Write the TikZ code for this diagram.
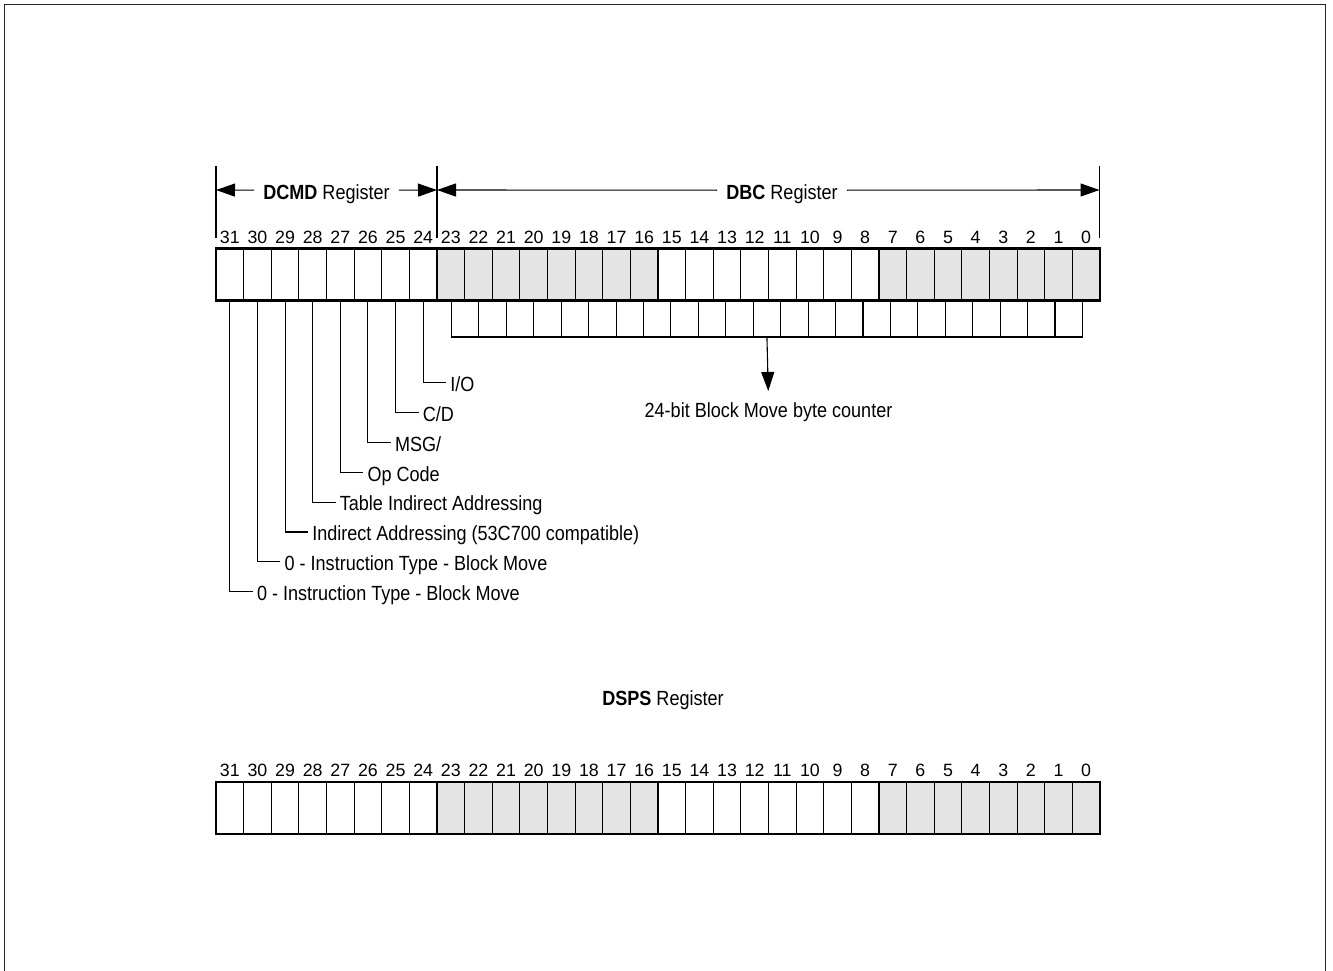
\documentclass[tikz,border=0pt]{standalone}
\usepackage{fontspec}
\setmainfont[FakeStretch=0.88]{Liberation Sans}
\newfontfamily\digitfont{Liberation Sans}
\usetikzlibrary{arrows.meta,calc}
\definecolor{cellgray}{HTML}{E4E4E4}
\begin{document}
\begin{tikzpicture}[x=1pt,y=-1pt,
  cell/.style={draw,line width=1.1pt,minimum width=27.625pt,minimum height=52pt,inner sep=0pt,outer sep=0pt,anchor=north west},
  graycell/.style={cell,fill=cellgray},
  subcell/.style={draw,line width=1.1pt,minimum width=27.43pt,minimum height=36.5pt,inner sep=0pt,outer sep=0pt,anchor=north west},
  bitnum/.style={font=\digitfont\fontsize{17.8}{20}\selectfont,anchor=base,inner sep=0pt},
  lbl/.style={font=\fontsize{20.5}{24}\selectfont,anchor=west,inner xsep=4pt,inner ysep=0pt,text height=19pt,text depth=1.4pt},
  hdr/.style={font=\fontsize{20.5}{24}\selectfont,inner xsep=9pt,inner ysep=0pt,text height=19pt,text depth=1.4pt},
  leader/.style={line width=1.1pt},
  thickline/.style={line width=2.5pt},
  dimarrow/.style={line width=1.1pt,-{Triangle[length=19pt,width=13pt]}},
]
\useasboundingbox (0,0) rectangle (1333,971);
% frame
\draw[line width=1.4pt,black!85] (4.5,971) -- (4.5,4.5) -- (1325.5,4.5) -- (1325.5,971);

% ---------- DCMD / DBC register ----------
\foreach \b in {8,...,15,24,25,26,27,28,29,30,31}
  \node[cell] (c\b) at ({216+(31-\b)*27.625},248.5) {};
\foreach \b in {0,...,7,16,17,18,19,20,21,22,23}
  \node[graycell] (c\b) at ({216+(31-\b)*27.625},248.5) {};
\foreach \b in {0,...,31}
  \node[bitnum] (n\b) at ({216+(31-\b)*27.625+13.81},243) {\b};
\draw[thickline] (c31.north west) rectangle (c0.south east);
\draw[thickline] (c24.north east) -- (c24.south east);
\draw[thickline] (c16.north east) -- (c16.south east);
\draw[thickline] (c8.north east) -- (c8.south east);

% byte counter boxes
\foreach \k in {1,...,23}
  \node[subcell] (s\k) at ({451.5+(\k-1)*27.43},300.5) {};
\node[font=\fontsize{20.5}{24}\selectfont,anchor=north,inner sep=0pt] (cnt) at (768.5,402) {24-bit Block Move byte counter};
\draw[dimarrow,shorten >=11pt] (s12.south) -- (cnt.north);

% dimension lines
\coordinate (tL) at (216,190);
\coordinate (tM) at (437,190);
\coordinate (tR) at (1099.5,190);
\draw[leader] (216,166) -- (216,238);
\draw[leader] (437,166) -- (437,238);
\draw[leader] (1099.5,166) -- (1099.5,238);
\node[hdr,anchor=base] (dcmd) at (326.5,199) {\textbf{DCMD} Register};
\node[hdr,anchor=base] (dbc) at (782,199) {\textbf{DBC} Register};
\draw[dimarrow] (dcmd.west) -- (tL);
\draw[dimarrow] (dcmd.east) -- (tM);
\draw[dimarrow] (dbc.west) -- (tM);
\draw[dimarrow] (dbc.east) -- (tR);

% leader labels
\foreach \b/\t [count=\i from 0] in {24/{I/O},25/{C/D},26/{MSG/},27/{Op Code},28/{Table Indirect Addressing},29/{Indirect Addressing (53C700 compatible)},30/{0 - Instruction Type - Block Move},31/{0 - Instruction Type - Block Move}}
{
  \node[lbl] (l\b) at ({216+(31-\b)*27.625+13.81+23},{382.5+\i*29.9}) {\t};
  \draw[leader] (c\b.south) |- (l\b.west);
}

% ---------- DSPS register ----------
\node[hdr,anchor=base] (dsps) at (663,705) {\textbf{DSPS} Register};
\foreach \b in {8,...,15,24,25,26,27,28,29,30,31}
  \node[cell] (d\b) at ({216+(31-\b)*27.625},782) {};
\foreach \b in {0,...,7,16,17,18,19,20,21,22,23}
  \node[graycell] (d\b) at ({216+(31-\b)*27.625},782) {};
\foreach \b in {0,...,31}
  \node[bitnum] (m\b) at ({216+(31-\b)*27.625+13.81},776.7) {\b};
\draw[thickline] (d31.north west) rectangle (d0.south east);
\draw[thickline] (d24.north east) -- (d24.south east);
\draw[thickline] (d16.north east) -- (d16.south east);
\draw[thickline] (d8.north east) -- (d8.south east);
\end{tikzpicture}
\end{document}
